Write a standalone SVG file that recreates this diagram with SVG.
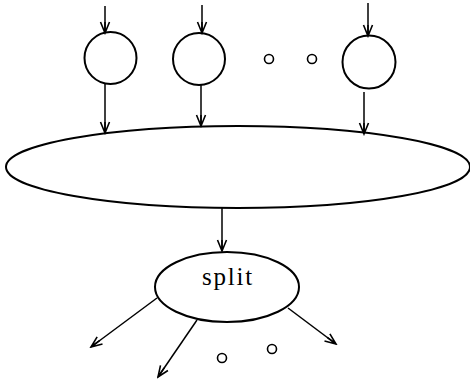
<svg xmlns="http://www.w3.org/2000/svg" width="470" height="379" viewBox="0 0 470 379">
<style>
.node{fill:none;stroke:#000;stroke-width:2}
.dot{fill:none;stroke:#000;stroke-width:1.6}
.edge{fill:none;stroke:#000;stroke-width:1.5;marker-end:url(#ah)}
.lbl{font-family:"Liberation Serif",serif;font-size:25px;letter-spacing:1.8px;fill:#000}
</style>
<defs>
<marker id="ah" markerUnits="userSpaceOnUse" markerWidth="14" markerHeight="12" viewBox="-12 -6 14 12" refX="0" refY="0" orient="auto">
<path d="M-11,-4.5 L0,0 L-11,4.5 M-11,0 L0,0" fill="none" stroke="#000" stroke-width="1.6"/>
</marker>
</defs>
<g id="connectors">
<line class="edge" x1="105" y1="6" x2="105" y2="33"/>
<line class="edge" x1="202" y1="5" x2="202" y2="33"/>
<line class="edge" x1="368" y1="3" x2="368" y2="36"/>
<line class="edge" x1="105" y1="84" x2="105" y2="133"/>
<line class="edge" x1="201" y1="85" x2="201" y2="126"/>
<line class="edge" x1="364" y1="92" x2="364" y2="134"/>
<line class="edge" x1="222" y1="208" x2="222" y2="251"/>
<line class="edge" x1="157" y1="298" x2="91" y2="347"/>
<line class="edge" x1="197" y1="320" x2="158" y2="377"/>
<line class="edge" x1="288" y1="308" x2="336" y2="344"/>
</g>
<g id="n1"><circle class="node" cx="110.5" cy="58" r="26"/></g>
<g id="n2"><circle class="node" cx="199" cy="59" r="26"/></g>
<g id="dots1"><circle class="dot" cx="269" cy="59" r="4.5"/><circle class="dot" cx="312" cy="59" r="4.5"/></g>
<g id="n3"><circle class="node" cx="369" cy="62" r="26.5"/></g>
<g id="merge"><ellipse class="node" cx="238" cy="167" rx="232" ry="41"/></g>
<g id="split"><ellipse class="node" cx="227" cy="287" rx="72" ry="35"/><text class="lbl" x="228" y="285" text-anchor="middle">split</text></g>
<g id="dots2"><circle class="dot" cx="222" cy="358" r="4.5"/><circle class="dot" cx="272" cy="349" r="4.5"/></g>
</svg>
